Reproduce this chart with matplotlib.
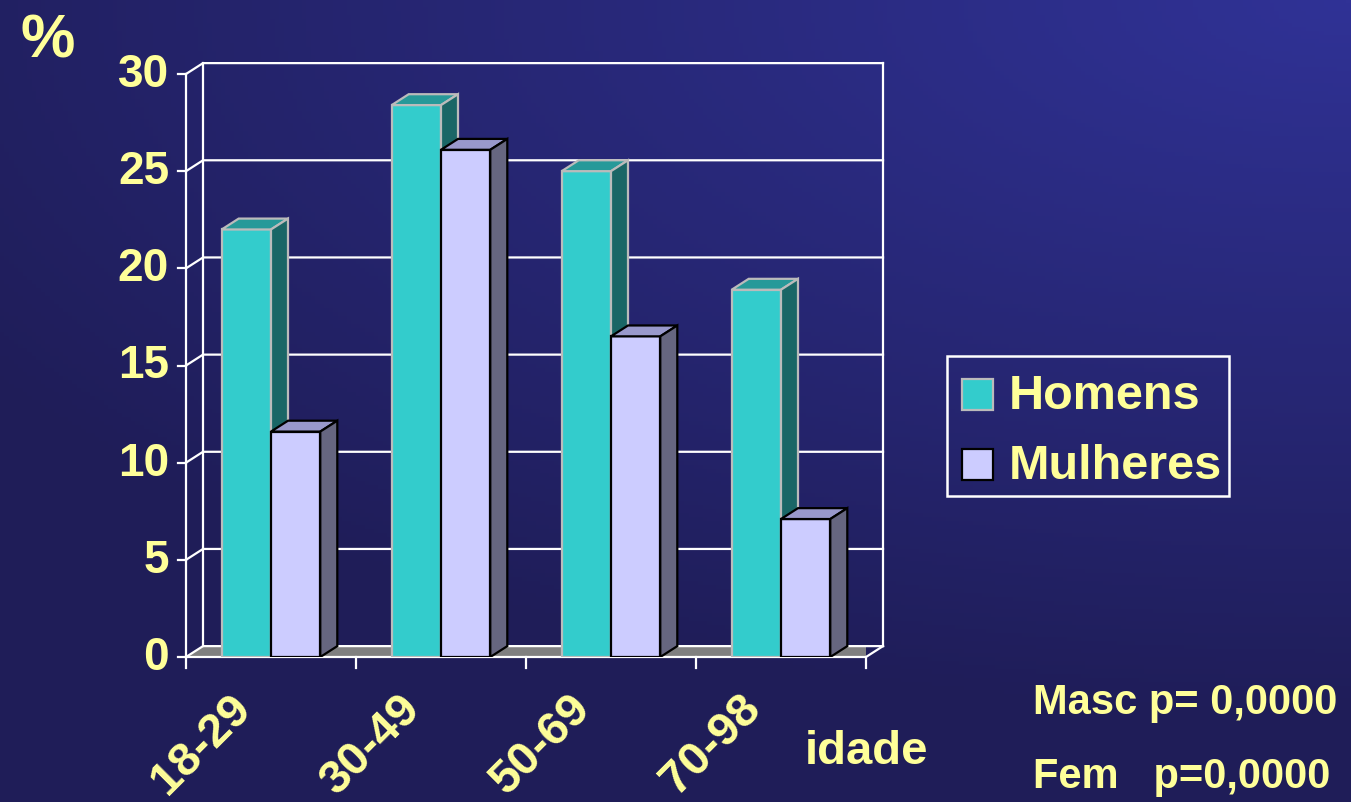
import matplotlib.pyplot as plt
import numpy as np
from matplotlib.patches import Polygon, Rectangle

categories = ["18-29", "30-49", "50-69", "70-98"]
homens = [22.0, 28.4, 25.0, 18.9]
mulheres = [11.6, 26.1, 16.5, 7.1]
yticks = [0, 5, 10, 15, 20, 25, 30]

plt.rcParams['font.family'] = ['Liberation Sans', 'DejaVu Sans']
plt.rcParams['font.weight'] = 'bold'
yellow = '#FFFF99'

W, H = 1351, 803
fig = plt.figure(figsize=(W / 100, H / 100), dpi=100)

# fundo em degradê
bg = fig.add_axes([0, 0, 1, 1])
xx, yy = np.meshgrid(np.linspace(0, 1, 300), np.linspace(0, 1, 200))
d = np.sqrt(((1 - xx) / 1.2) ** 2 + (yy / 0.9) ** 2)
t = np.clip(1 - d, 0, 1)
c0 = np.array([0x1f, 0x1d, 0x58]) / 255
c1 = np.array([0x30, 0x32, 0x96]) / 255
bg.imshow(c0 + (c1 - c0) * t[..., None], extent=[0, 1, 0, 1], aspect='auto', origin='upper')
bg.set_xlim(0, 1)
bg.set_ylim(0, 1)
bg.axis('off')

ax = fig.add_axes([186 / W, 1 - 658 / H, 680 / W, 583 / H])
ax.set_xlim(0, 4)
ax.set_ylim(0, 30)
ax.axis('off')
dx, dy = 0.1, 0.56
n = len(categories)
lw = 1.6

# chão
ax.add_patch(Polygon([(0, 0), (dx, dy), (n + dx, dy), (n, 0)], closed=True,
                     facecolor='#808080', edgecolor='none', zorder=1))
ax.plot([0, n, n + dx], [0, 0, dy], color='white', lw=lw, zorder=2, clip_on=False)

# parede / grade
for v in yticks:
    ax.plot([0, dx, n + dx], [v, v + dy, v + dy], color='white', lw=lw, zorder=1, clip_on=False)
    ax.plot([-0.05, 0], [v, v], color='white', lw=lw, zorder=2, clip_on=False)
    ax.text(-0.1, v, str(v), ha='right', va='center', fontsize=33, color=yellow,
            fontweight='bold')
ax.plot([dx, dx], [dy, 30 + dy], color='white', lw=lw, zorder=1, clip_on=False)
ax.plot([n + dx, n + dx], [dy, 30 + dy], color='white', lw=lw, zorder=1, clip_on=False)
ax.plot([0, 0], [0, 30], color='white', lw=lw, zorder=2, clip_on=False)
for i in range(n + 1):
    ax.plot([i, i], [0, -0.55], color='white', lw=lw, zorder=2, clip_on=False)


def bar3d(x0, w, h, front, top, side, edge, z):
    x1 = x0 + w
    ax.bar(x0, h, width=w, align='edge', color=front, edgecolor=edge, linewidth=lw, zorder=z)
    ax.add_patch(Polygon([(x0, h), (x0 + dx, h + dy), (x1 + dx, h + dy), (x1, h)],
                         closed=True, facecolor=top, edgecolor=edge, lw=lw, zorder=z))
    ax.add_patch(Polygon([(x1, 0), (x1, h), (x1 + dx, h + dy), (x1 + dx, dy)],
                         closed=True, facecolor=side, edgecolor=edge, lw=lw, zorder=z))


bw = 0.29
for i in range(n):
    bar3d(i + 0.21, bw, homens[i], '#33CCCC', '#269999', '#1A6666', '#BBBBBB', 3)
    bar3d(i + 0.5, bw, mulheres[i], '#CCCCFF', '#9999CC', '#666680', 'black', 4)
    ax.text(i + 0.34, -2.25, categories[i], rotation=45, rotation_mode='anchor',
            ha='right', va='center', fontsize=34, color=yellow, fontweight='bold')

fig.text(20 / W, 1 - 42 / H, "%", ha='left', va='center', fontsize=44, color=yellow,
         fontweight='bold')
fig.text(805 / W, 1 - 752 / H, "idade", ha='left', va='center', fontsize=34, color=yellow,
         fontweight='bold')
fig.text(1033 / W, 1 - 703 / H, "Masc p= 0,0000", ha='left', va='center', fontsize=30,
         color=yellow, fontweight='bold')
fig.text(1033 / W, 1 - 777 / H, "Fem   p=0,0000", ha='left', va='center', fontsize=30,
         color=yellow, fontweight='bold')

# legenda
fig.add_artist(Rectangle((947 / W, 1 - 497 / H), 282 / W, 140 / H, transform=fig.transFigure,
                         facecolor='none', edgecolor='white', lw=1.8))
fig.add_artist(Rectangle((962 / W, 1 - 411 / H), 31 / W, 31 / H, transform=fig.transFigure,
                         facecolor='#33CCCC', edgecolor='#BBBBBB', lw=1.6))
fig.add_artist(Rectangle((962 / W, 1 - 481 / H), 31 / W, 31 / H, transform=fig.transFigure,
                         facecolor='#CCCCFF', edgecolor='black', lw=1.6))
fig.text(1009 / W, 1 - 397 / H, "Homens", ha='left', va='center', fontsize=35,
         color=yellow, fontweight='bold')
fig.text(1009 / W, 1 - 467 / H, "Mulheres", ha='left', va='center', fontsize=35,
         color=yellow, fontweight='bold')

fig.savefig("out.png", dpi=100)
